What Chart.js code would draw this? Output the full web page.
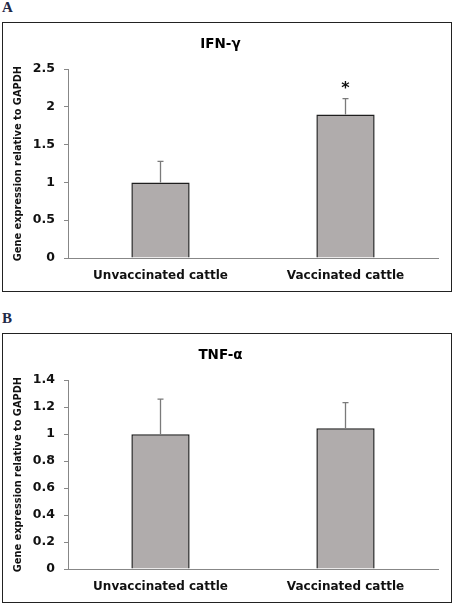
<!DOCTYPE html>
<html>
<head>
<meta charset="utf-8">
<script src="https://cdn.jsdelivr.net/npm/chart.js@4"></script>
<style>
  html, body { margin: 0; padding: 0; background: #fff; }
  body { width: 453px; height: 604px; position: relative; overflow: hidden; }
  .tag {
    position: absolute; left: 2px;
    font: bold 15px "Liberation Serif", serif; color: #1f2a48;
  }
  .box {
    position: absolute; left: 2px; width: 450px; height: 270px;
    border: 1px solid #222; box-sizing: border-box;
  }
  .box canvas { display: block; }
</style>
</head>
<body>
<div class="tag" style="top:-1px">A</div>
<div class="box" style="top:22px"><canvas id="chartA" width="448" height="268"></canvas></div>
<div class="tag" style="top:310px">B</div>
<div class="box" style="top:333px"><canvas id="chartB" width="448" height="268"></canvas></div>

<script>
/* ============================
   DATA
   ============================ */
const groups = ["Unvaccinated cattle", "Vaccinated cattle"];

// panel A: IFN-γ
const ifnMeans = [1.0, 1.9];
const ifnErrors = [0.28, 0.21];
const ifnMarks = ["", "*"];
const ifnTicks = [0, 0.5, 1, 1.5, 2, 2.5];

// panel B: TNF-α
const tnfMeans = [1.0, 1.043];
const tnfErrors = [0.26, 0.19];
const tnfMarks = ["", ""];
const tnfTicks = [0, 0.2, 0.4, 0.6, 0.8, 1, 1.2, 1.4];

const FONT = "'DejaVu Sans', Verdana, sans-serif";
const AXIS_GRAY = "#878787";

/* ============================
   ERROR BARS + SIGNIFICANCE
   ============================ */
const errorBarPlugin = {
  id: "errorBars",
  afterDatasetsDraw(chart, args, opts) {
    const { ctx } = chart;
    const y = chart.scales.y;
    const meta = chart.getDatasetMeta(0);
    ctx.save();
    meta.data.forEach((bar, i) => {
      const yTop = y.getPixelForValue(opts.means[i] + opts.errors[i]);
      const yBar = y.getPixelForValue(opts.means[i]);
      ctx.strokeStyle = "#7a7a7a";
      ctx.lineWidth = 1.3;
      ctx.beginPath();
      ctx.moveTo(bar.x, yBar);
      ctx.lineTo(bar.x, yTop);
      ctx.moveTo(bar.x - 3, yTop);
      ctx.lineTo(bar.x + 3, yTop);
      ctx.stroke();

      if (opts.marks[i]) {
        ctx.fillStyle = "#111";
        ctx.font = `bold 16px ${FONT}`;
        ctx.textAlign = "center";
        ctx.textBaseline = "middle";
        ctx.fillText(opts.marks[i], bar.x, yTop - 10);
      }
    });
    ctx.restore();
  },
};

/* ============================
   BUILD ONE PANEL
   ============================ */
function makeChart(id, title, means, errors, marks, ticks) {
  const ctx = document.getElementById(id).getContext("2d");
  return new Chart(ctx, {
    type: "bar",
    data: {
      labels: groups,
      datasets: [
        {
          data: means,
          backgroundColor: "#b0acac",
          borderColor: "#1e1e1e",
          borderWidth: { top: 1.5, left: 1.5, right: 1.5, bottom: 0 },
          borderSkipped: "bottom",
          barPercentage: 0.315,
          categoryPercentage: 1,
        },
      ],
    },
    options: {
      responsive: false,
      animation: false,
      layout: { padding: { left: 0, right: 13, top: 0, bottom: 0 } },
      plugins: {
        legend: { display: false },
        tooltip: { enabled: false },
        title: {
          display: true,
          text: title,
          color: "#000",
          font: { family: FONT, size: 13.5, weight: "bold", lineHeight: 1.2 },
          padding: { top: 13, bottom: 17 },
        },
        errorBars: { means, errors, marks },
      },
      scales: {
        x: {
          grid: { display: false, drawTicks: false },
          border: { color: AXIS_GRAY, width: 1 },
          ticks: {
            color: "#111",
            padding: 11,
            font: { family: FONT, size: 12, weight: "bold" },
            maxRotation: 0,
          },
          afterFit: (s) => { s.height = 33; },
        },
        y: {
          min: ticks[0],
          max: ticks[ticks.length - 1],
          afterBuildTicks: (s) => { s.ticks = ticks.map((v) => ({ value: v })); },
          grid: {
            drawOnChartArea: false,
            drawTicks: true,
            tickLength: 4,
            color: AXIS_GRAY,
          },
          border: { color: AXIS_GRAY, width: 1 },
          ticks: {
            color: "#111",
            padding: 9,
            font: { family: FONT, size: 12.5, weight: "bold" },
            callback: (v) => String(v),
          },
          title: {
            display: true,
            text: "Gene expression relative to GAPDH",
            color: "#111",
            font: { family: FONT, size: 9.8, weight: "bold" },
            padding: { top: 10, bottom: 0 },
          },
          afterFit: (s) => { s.width = 65; },
        },
      },
    },
    plugins: [errorBarPlugin],
  });
}

window.onload = () => {
  makeChart("chartA", "IFN-γ", ifnMeans, ifnErrors, ifnMarks, ifnTicks);
  makeChart("chartB", "TNF-α", tnfMeans, tnfErrors, tnfMarks, tnfTicks);
};
</script>
</body>
</html>
